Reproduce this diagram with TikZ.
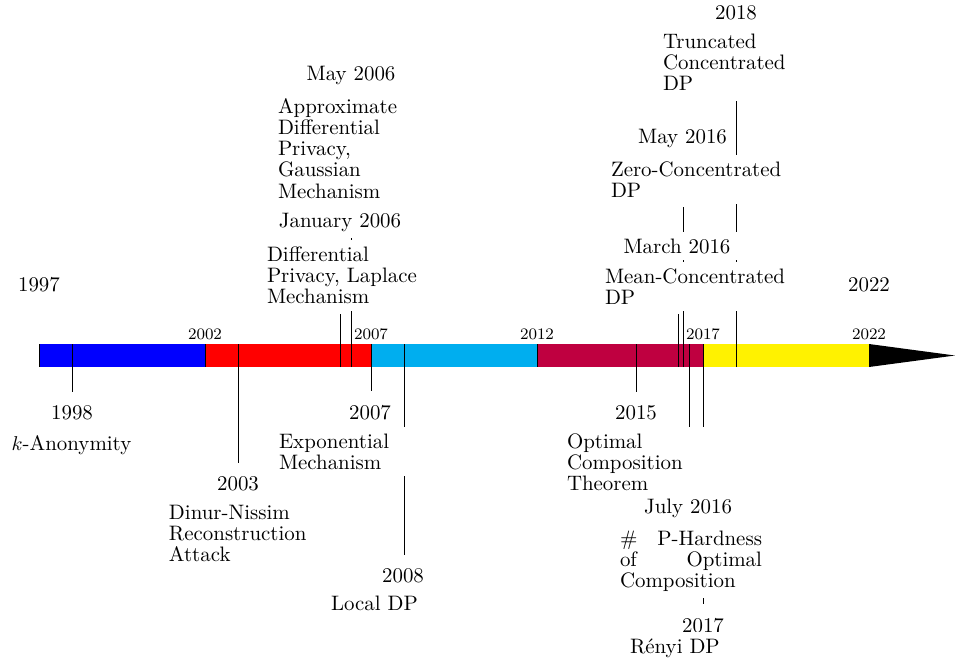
\documentclass[tikz,border=0pt]{standalone}
\usetikzlibrary{backgrounds}
\definecolor{segA}{RGB}{0,0,255}
\definecolor{segB}{RGB}{255,0,0}
\definecolor{segC}{RGB}{0,174,239}
\definecolor{segD}{RGB}{191,0,64}
\definecolor{segE}{RGB}{255,242,0}
\tikzset{
  every node/.style={font=\fontsize{10.45}{10.65}\selectfont},
  datelbl/.style={fill=white, anchor=base},
  desc/.style={fill=white, anchor=base, text width=71pt, align=left},
  ticklbl/.style={anchor=base, font=\footnotesize},
  endlbl/.style={anchor=base},
  evup/.style={black, line width=0.4pt, shorten >=1.5pt},
  evdown/.style={black, line width=0.4pt, shorten >=3.25pt},
  divider/.style={black, line width=0.5pt}
}
\begin{document}
\begin{tikzpicture}[x=0.5pt,y=-0.5pt]
\useasboundingbox (0,0) rectangle (955,670);

% bar corner / boundary coordinates
\coordinate (s1997) at (39,344);   \coordinate (s1997b) at (39,367);
\coordinate (s2002) at (205,344);  \coordinate (s2002b) at (205,367);
\coordinate (s2007) at (371,344);  \coordinate (s2007b) at (371,367);
\coordinate (s2012) at (537,344);  \coordinate (s2012b) at (537,367);
\coordinate (s2017) at (703,344);  \coordinate (s2017b) at (703,367);
\coordinate (s2022) at (869,344);  \coordinate (s2022b) at (869,367);
\coordinate (tip) at (955,355.5);

% event anchors on the bar
\coordinate (ev1998) at (72.2,344);
\coordinate (ev2003) at (238.2,344);
\coordinate (ev2007) at (371,344);
\coordinate (ev2008) at (404.2,344);
\coordinate (ev2015) at (636.6,344);
\coordinate (ev2016c) at (689.2,344);
\coordinate (ev2017) at (703,344);
\coordinate (ev2006a) at (340.6,367);
\coordinate (ev2006b) at (351.6,367);
\coordinate (ev2016a) at (678.1,367);
\coordinate (ev2016b) at (683.7,367);
\coordinate (ev2018) at (736.2,367);

% end labels and tick labels
\node[endlbl] (y1997) at (39,291) {1997};
\node[endlbl] (y2022) at (869,291) {2022};
\node[ticklbl] (t2002) at (205,339) {2002};
\node[ticklbl] (t2007) at (371,339) {2007};
\node[ticklbl] (t2012) at (537,339) {2012};
\node[ticklbl] (t2017) at (703,339) {2017};
\node[ticklbl] (t2022) at (869,339) {2022};

% events below the bar
\node[datelbl] (d1998) at (72,419) {1998};
\node[fill=white, anchor=base] (k1998) at (71.5,450) {$k$-Anonymity};
\node[datelbl] (d2003) at (238,490) {2003};
\node[desc] (k2003) at (240,519) {Dinur-Nissim\\Reconstruction\\Attack};
\node[datelbl] (d2007) at (370,419) {2007};
\node[desc] (k2007) at (350,448) {Exponential\\Mechanism};
\node[datelbl] (d2008) at (403,582) {2008};
\node[desc] (k2008) at (402,610) {Local DP};
\node[datelbl] (d2015) at (636,419) {2015};
\node[desc] (k2015) at (638,448) {Optimal\\Composition\\Theorem};
\node[datelbl] (d2016c) at (688,513) {July 2016};
\node[desc] (k2016c) at (691,545) {\#\hfill P-Hardness\\of\hfill Optimal\\Composition};
\node[datelbl] (d2017) at (703,632) {2017};
\node[desc] (k2017) at (701,653) {R\'enyi DP};

% events above the bar
\node[datelbl] (d2006b) at (351,80) {May 2006};
\node[desc] (k2006b) at (349,113) {Approximate\\Differential\\Privacy,\\Gaussian\\Mechanism};
\node[datelbl] (d2006a) at (340,227) {January 2006};
\node[desc] (k2006a) at (338,261) {Differential\\\mbox{Privacy, Laplace}\\Mechanism};
\node[datelbl] (d2018) at (736,19) {2018};
\node[desc] (k2018) at (734,48) {Truncated\\Concentrated\\DP};
\node[datelbl] (d2016b) at (682.5,143) {May 2016};
\node[desc] (k2016b) at (682,176) {\mbox{Zero-Concentrated}\\DP};
\node[datelbl] (d2016a) at (677,253) {March 2016};
\node[desc] (k2016a) at (676,283) {\mbox{Mean-Concentrated}\\DP};

\begin{scope}[on background layer]
  \fill[segA] (s1997) rectangle (s2002b);
  \fill[segB] (s2002) rectangle (s2007b);
  \fill[segC] (s2007) rectangle (s2012b);
  \fill[segD] (s2012) rectangle (s2017b);
  \fill[segE] (s2017) rectangle (s2022b);
  \fill[black] (s2022) -- (tip) -- (s2022b) -- cycle;
  \foreach \p in {1997,2002,2007,2012,2017}
    \draw[divider] (s\p) -- (s\p b);
  % event lines, below
  \draw[evdown] (ev1998) -- (ev1998 |- d1998.north);
  \draw[evdown] (ev2003) -- (ev2003 |- d2003.north);
  \draw[evdown] (ev2007) -- (ev2007 |- d2007.north);
  \draw[evdown] (ev2008) -- (ev2008 |- d2008.north);
  \draw[evdown] (ev2015) -- (ev2015 |- d2015.north);
  \draw[evdown] (ev2016c) -- (ev2016c |- d2016c.north);
  \draw[evdown] (ev2017) -- (ev2017 |- d2017.north);
  % event lines, above
  \draw[evup] (ev2006a) -- (ev2006a |- k2006a.south);
  \draw[evup] (ev2006b) -- (ev2006b |- k2006b.south);
  \draw[evup] (ev2016a) -- (ev2016a |- k2016a.south);
  \draw[evup] (ev2016b) -- (ev2016b |- k2016b.south);
  \draw[evup] (ev2018) -- (ev2018 |- k2018.south);
\end{scope}
\end{tikzpicture}
\end{document}
